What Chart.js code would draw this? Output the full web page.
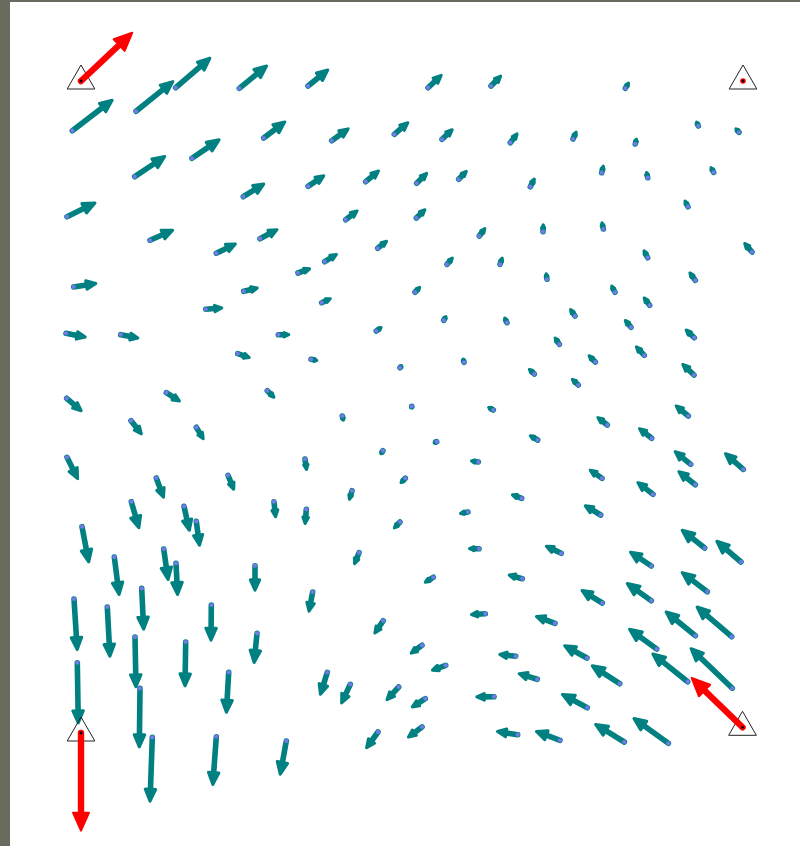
<!DOCTYPE html>
<html><head><meta charset="utf-8">
<script src="https://cdn.jsdelivr.net/npm/chart.js@4/dist/chart.umd.min.js"></script>
<style>html,body{margin:0;padding:0;background:#fff;}canvas{display:block;}</style>
</head><body>
<canvas id="c" width="800" height="846"></canvas>
<script>
// Grid points (tail positions, map units) and interpolated displacements
const tailX = [72.3,136,175.7,239.3,263.7,134.7,192,67,243.3,150,216.3,260,73.7,243.7,205.7,278.3,66,120.7,237.7,66.7,166.3,267.3,131,196.3,
67,156.3,228,131.3,184,274,196.3,82,163.7,176,114.3,255,141.7,74,107.3,211.3,257,135,185.7,77.3,140,228.7,152.3,216.3,286.3,
308,428,491,331.7,394.3,442,510.3,308,365.7,416.7,458.7,345.7,416.3,479.3,377.7,324.7,298,447,500,321.7,415,443.7,507,376.3,311,400,464,411.7,493.3,342.3,
625.3,698.3,739,573,635.3,601.7,647.7,713.7,530.3,688,543,603.3,647.7,752,547,695.3,615,649.7,575,631,694.3,559.3,644.3,595.3,534.3,694,578.3,688.3,607.3,
537.7,651.7,690.7,743.3,602,695.3,653,600.7,561.3,704.7,741,651.3,707.3,651.3,602.3,555,695.3,731.7,656.7,587,687.7,732.3,619.7,537.3,587.3,624.3,668.3,560,
305,383,436.7,478.3,405.3,352,521.7,306.3,468,400,479,359,433.3,522.3,312.7,485.3,383.3,422,515.7,445.7,327.3,350.3,398.7,425.3,494,378,422,517.7];
const tailY = [130.7,111.3,87.7,88.3,138,176.7,158.3,216.7,196.7,240.3,253.3,238.7,287,291.3,309.3,334.7,333.3,334.7,353.7,398.3,392.7,390.7,420.7,427.3,
457.3,478,475.3,501.7,506.3,501.7,521.3,526.7,549,563.3,557,565.7,588.3,599,607,605,633.3,637,642,662.7,688.3,672.3,737.3,736.7,741,
86,87.7,86,140.7,134.3,139.3,142.7,186.3,181.7,183.3,179.3,219.7,218,236,248.3,261.7,273,264.3,264.3,302.7,292.3,320.3,322.7,331,359.3,367.7,362.3,406.3,410,416,
88.3,126,132.3,139,144,172.7,177.7,172.3,186.7,206.7,231.7,229,257.7,252,279.3,280.3,292.3,305.3,316,327.3,337.7,344.3,355.3,362,374,375,385,416,425,
440,438.3,464.3,469.3,478.3,484.7,494.3,515,553.3,548,562,566,591.7,600.7,603,623.3,635.7,636.7,649,658,681.7,688.3,683.7,679.3,707.7,742,743.3,740.3,
459,450.7,441.7,462,478.3,490.7,498.3,509.3,512,522,548.7,552.7,577.3,578.7,592,613.7,620.7,645.3,656.3,665.3,672.3,684.3,687,698.7,696.7,732,727,734.7];
const dispX = [41,38,35.3,28.4,22.3,31.3,28.3,29.3,21.7,24,20.4,18.3,23.6,15,17.6,12,20.7,18.6,13,15.6,14.4,7.7,11.3,7.7,
11.3,7.7,6.3,8,5.7,1.7,3.4,7,4.6,1.7,5,0,2,3.3,2.7,-0.3,-3,1,-0.7,1,-0.7,-2.4,-2.3,-3.6,-6.3,
21,14.3,10.7,17.6,14.7,11.3,7.7,17,14,11,8.6,12.6,9.7,6.4,10,13,13,6.3,2.7,10,5.7,3,-3,6,7.3,2.7,-1.3,0,-6,1.4,
4,-2.3,-4,3.7,1.4,2,-1.4,-3.4,4.7,-3.7,0.3,-1.6,-4.4,-8.3,-1,-6.3,-4,-6.4,-5.3,-6.7,-9.3,-5,-9,-7.3,-6,-12.3,-7,-13.3,-10.6,
-8.7,-13.4,-16.7,-19,-13,-17.6,-16.3,-16.7,-16.3,-23.7,-25.3,-22,-26.3,-25.3,-21.6,-20,-30.3,-35.7,-28.4,-23.7,-36,-42.3,-28.7,-19.6,-26.3,-30,-35.6,-25,
1.7,-3,-4,-8.3,-5.3,-3,-10.7,-1.3,-9,-6.7,-11,-5,-9.3,-14.6,-4,-15.3,-9.3,-12,-17.4,-14.7,-7.3,-9.3,-12.7,-14.3,-18.7,-12.3,-14.7,-21.7];
const dispY = [-31.4,-30.6,-30.4,-23.3,-17,-21,-19.3,-14.4,-13.4,-10.6,-10,-9.7,-3.7,-3.6,-1.6,0,4,3.6,4.3,13.4,9,7.6,14.3,12.7,
22.7,20.7,15.4,27.6,25.4,16.6,25.4,36.6,32,32.7,39,26,42.4,52,50.7,36.7,30.7,51.3,45.3,61.6,60,41.4,65.4,49.3,34.7,
-17,-13.4,-11,-12.7,-12.6,-10.6,-10,-11.3,-11.7,-11,-9,-9.7,-9.3,-8.7,-8,-8,-4.7,-7.3,-7.6,-4.7,-6,-5,-6,-4.3,1.4,-3,-4.6,-1.8,-3.3,5.7,
-6.6,-5.3,-4.6,-8.3,-6.3,-8,-6.7,-6,-9,-7,-8.4,-7.7,-8.4,-9.7,-7,-8.6,-7.6,-8.6,-7.7,-8,-8.7,-7.6,-9.6,-7.3,-5.7,-11.7,-6.7,-11,-8.3,
-5,-10.6,-13.6,-16.6,-9,-14,-12.6,-10,-7.6,-18.7,-21.7,-14.7,-20,-18,-13.3,-7.3,-24.7,-30.7,-20.7,-13,-28.7,-40.6,-18.7,-6,-14,-18.3,-25.6,-9.3,
12,4.3,1.6,-1.3,5.4,10,-4,15.7,1.7,7,0,12.3,5.7,-4,20.7,1,13.6,8.7,-2,5.4,23.4,20,13.7,9,0.3,17,11,-3.4];
// Reference stations and their observed displacements
const stationX = [81, 743, 81, 742.5];
const stationY = [81, 81, 733, 727.3];
const stationDX = [52, 0, 0, -51.6];
const stationDY = [-49, 0, 98.7, -50];

function drawArrow(ctx, x0, y0, x1, y1, color, lw, maxHW, maxHL, headStroke) {
  const dx = x1 - x0, dy = y1 - y0, L = Math.hypot(dx, dy);
  if (L < 0.3) return;
  ctx.save();
  ctx.strokeStyle = color; ctx.fillStyle = color;
  ctx.lineCap = 'round'; ctx.lineJoin = 'round';
  const ux = dx / L, uy = dy / L;
  const hw = Math.min(maxHW, Math.max(lw - headStroke, L * 0.36));
  const hl = Math.min(maxHL, L * 0.4);
  const inset = headStroke / 2;
  const tx = x1 - ux * inset, ty = y1 - uy * inset;
  const bx = tx - ux * hl, by = ty - uy * hl;
  ctx.lineWidth = lw;
  ctx.beginPath(); ctx.moveTo(x0, y0); ctx.lineTo(bx, by); ctx.stroke();
  ctx.beginPath();
  ctx.moveTo(tx, ty);
  ctx.lineTo(bx - uy * hw / 2, by + ux * hw / 2);
  ctx.lineTo(bx + uy * hw / 2, by - ux * hw / 2);
  ctx.closePath();
  ctx.lineWidth = headStroke; ctx.fill(); ctx.stroke();
  ctx.restore();
}

const arrowPlugin = {
  id: 'arrows',
  beforeDraw(chart) {
    const ctx = chart.ctx;
    ctx.save();
    ctx.fillStyle = '#6a6a5f';
    ctx.fillRect(0, 0, 10, chart.height);
    ctx.fillRect(0, 0, chart.width, 2);
    ctx.restore();
  },
  beforeDatasetDraw(chart, args) {
    const xs = chart.scales.x, ys = chart.scales.y, ctx = chart.ctx;
    if (args.index === 3) {
      for (let i = 0; i < tailX.length; i++) {
        drawArrow(ctx, xs.getPixelForValue(tailX[i]), ys.getPixelForValue(tailY[i]),
          xs.getPixelForValue(tailX[i] + dispX[i]), ys.getPixelForValue(tailY[i] + dispY[i]),
          '#008080', 5.6, 10.5, 12, 3);
      }
    }
    if (args.index === 1) {
      for (let i = 0; i < stationX.length; i++) {
        drawArrow(ctx, xs.getPixelForValue(stationX[i]), ys.getPixelForValue(stationY[i]),
          xs.getPixelForValue(stationX[i] + stationDX[i]), ys.getPixelForValue(stationY[i] + stationDY[i]),
          '#ff0000', 6.4, 16, 18, 2);
      }
    }
  }
};

const stationPts = stationX.map((x, i) => ({x, y: stationY[i]}));
new Chart(document.getElementById('c'), {
  type: 'scatter',
  data: {
    datasets: [
      {data: stationPts, pointRadius: 1.4, backgroundColor: '#000', borderWidth: 0, order: 0},
      {data: stationPts, pointRadius: 2.8, backgroundColor: '#ff0000', borderWidth: 0, order: 1},
      {data: stationPts, pointStyle: 'triangle', pointRadius: 16, backgroundColor: 'rgba(0,0,0,0)', borderColor: '#222', borderWidth: 1, order: 2},
      {data: tailX.map((x, i) => ({x, y: tailY[i]})), pointRadius: 2.1, backgroundColor: '#7878ee', borderWidth: 0, order: 3}
    ]
  },
  options: {
    responsive: false, animation: false, events: [],
    layout: {padding: 0, autoPadding: false},
    scales: {
      x: {type: 'linear', min: 0, max: 800, display: false},
      y: {type: 'linear', min: 0, max: 846, reverse: true, display: false}
    },
    plugins: {legend: {display: false}, tooltip: {enabled: false}}
  },
  plugins: [arrowPlugin]
});
</script>
</body></html>
